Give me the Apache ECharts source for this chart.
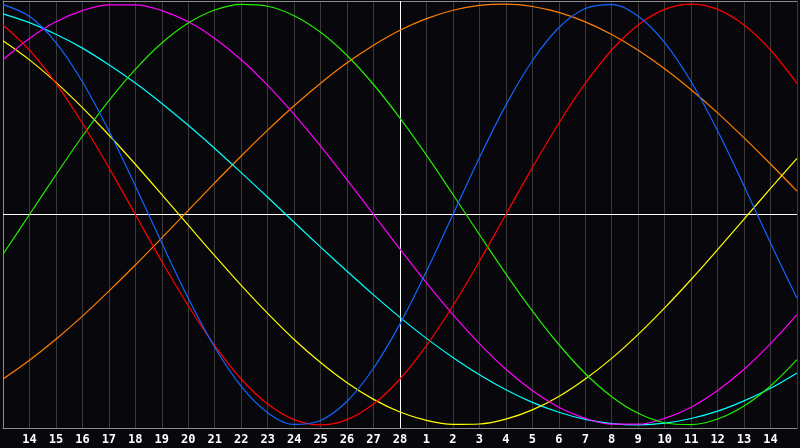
<!DOCTYPE html>
<html>
<head>
<meta charset="utf-8">
<script src="https://cdn.jsdelivr.net/npm/echarts@6/dist/echarts.min.js"></script>
<style>
html,body{margin:0;padding:0;background:#08070b;}
#chart{width:800px;height:448px;}
</style>
</head>
<body>
<div id="chart"></div>
<script>
// Day labels (first and last are chart edges, not labelled)
const days = ['13','14','15','16','17','18','19','20','21','22','23','24','25','26','27','28',
              '1','2','3','4','5','6','7','8','9','10','11','12','13','14','15'];

// Cycle values (-1 .. 1), one per day line
const physical = [0.998,0.942,0.817,0.631,0.398,0.136,-0.136,-0.398,-0.631,-0.817,-0.942,-0.998,-0.979,-0.888,-0.731,-0.520,
  -0.270,0.000,0.270,0.520,0.731,0.888,0.979,0.998,0.942,0.817,0.631,0.398,0.136,-0.136,-0.398];
const emotional = [0.901,0.782,0.623,0.434,0.223,0.000,-0.223,-0.434,-0.623,-0.782,-0.901,-0.975,-1.000,-0.975,-0.901,-0.782,
  -0.623,-0.434,-0.223,0.000,0.223,0.434,0.623,0.782,0.901,0.975,1.000,0.975,0.901,0.782,0.623];
const intellectual = [-0.189,0.000,0.189,0.372,0.541,0.690,0.815,0.910,0.972,0.999,0.990,0.945,0.866,0.756,0.618,0.458,
  0.282,0.095,-0.095,-0.282,-0.458,-0.618,-0.756,-0.866,-0.945,-0.990,-0.999,-0.972,-0.910,-0.815,-0.690];
const intuitive = [0.736,0.837,0.916,0.969,0.997,0.997,0.969,0.916,0.837,0.736,0.614,0.476,0.325,0.165,0.000,-0.165,
  -0.325,-0.476,-0.614,-0.736,-0.837,-0.916,-0.969,-0.997,-0.997,-0.969,-0.916,-0.837,-0.736,-0.614,-0.476];
const aesthetic = [0.826,0.735,0.628,0.508,0.378,0.239,0.095,-0.051,-0.196,-0.337,-0.470,-0.594,-0.704,-0.800,-0.879,-0.939,
  -0.979,-0.998,-0.996,-0.973,-0.929,-0.865,-0.782,-0.684,-0.570,-0.444,-0.309,-0.167,-0.022,0.124,0.267];
const awareness = [-0.782,-0.693,-0.593,-0.483,-0.364,-0.240,-0.111,0.020,0.150,0.278,0.401,0.517,0.624,0.721,0.805,0.876,
  0.931,0.971,0.994,1.000,0.989,0.961,0.916,0.856,0.781,0.693,0.593,0.483,0.364,0.240,0.111];
const spiritual = [0.954,0.912,0.857,0.791,0.712,0.625,0.528,0.424,0.314,0.199,0.082,-0.037,-0.155,-0.270,-0.382,-0.489,
  -0.589,-0.680,-0.762,-0.833,-0.893,-0.940,-0.974,-0.994,-1.000,-0.992,-0.970,-0.935,-0.886,-0.826,-0.753];

const todayLabel = '28';

const seriesDefs = [
  {name:'Awareness', data:awareness, color:'#ff8000'},
  {name:'Spiritual', data:spiritual, color:'#00ffff'},
  {name:'Aesthetic', data:aesthetic, color:'#ffff00'},
  {name:'Intuitive', data:intuitive, color:'#ff00ff'},
  {name:'Intellectual', data:intellectual, color:'#22ee00'},
  {name:'Emotional', data:emotional, color:'#ff0000'},
  {name:'Physical', data:physical, color:'#1166ff'}
];

const chart = echarts.init(document.getElementById('chart'));
const series = seriesDefs.map((s, i) => ({
  name: s.name,
  type: 'line',
  data: s.data,
  smooth: 0.35,
  showSymbol: false,
  symbol: 'none',
  lineStyle: {color: s.color, width: 1.2},
  itemStyle: {color: s.color},
  z: 3,
  markLine: i === 0 ? {
    silent: true,
    symbol: ['none','none'],
    label: {show: false},
    lineStyle: {color: '#ffffff', type: 'solid', width: 1},
    data: [{yAxis: 0}, {xAxis: todayLabel}],
    z: 2
  } : undefined
}));

chart.setOption({
  animation: false,
  backgroundColor: '#08070b',
  grid: {left: 1, right: 0, top: 1, bottom: 20},
  xAxis: [{
    type: 'category',
    data: days,
    boundaryGap: false,
    axisLine: {show: true, onZero: false, lineStyle: {color: '#8a8a8a', width: 1}},
    axisTick: {show: false},
    axisLabel: {
      interval: 0,
      color: '#ffffff',
      fontFamily: 'DejaVu Sans Mono',
      fontWeight: 'bold',
      fontSize: 12,
      margin: 6,
      formatter: (v, idx) => (idx === 0 || idx === days.length - 1) ? '' : v
    },
    splitLine: {show: true, interval: 0, lineStyle: {color: '#3a3a3a', width: 1}}
  }, {
    type: 'category',
    data: days,
    position: 'top',
    boundaryGap: false,
    axisLine: {show: true, onZero: false, lineStyle: {color: '#8a8a8a', width: 1}},
    axisTick: {show: false},
    axisLabel: {show: false},
    splitLine: {show: false}
  }],
  yAxis: {
    type: 'value',
    min: -1.015,
    max: 1.015,
    axisLine: {show: true, lineStyle: {color: '#8a8a8a', width: 1}},
    axisTick: {show: false},
    axisLabel: {show: false},
    splitLine: {show: false}
  },
  series: series
});
</script>
</body>
</html>
